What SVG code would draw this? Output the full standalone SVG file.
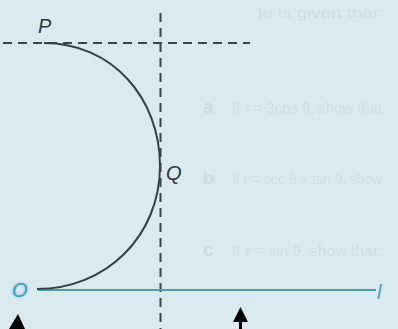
<svg xmlns="http://www.w3.org/2000/svg" width="398" height="329" viewBox="0 0 398 329">
<defs>
<style>
.ghost{font-family:"Liberation Sans",Arial,sans-serif;font-size:14px;fill:#cde0e6}
.ghostb{font-family:"Liberation Sans",Arial,sans-serif;font-size:18px;font-weight:bold;fill:#c9dde3}
.lbl{font-family:"Liberation Sans",Arial,sans-serif;font-style:italic;font-size:20px;fill:#2e3538}
.blue{font-family:"Liberation Sans",Arial,sans-serif;font-style:italic;font-size:20px;fill:#3d9fc0}
.dash{stroke:#3b4447;stroke-width:2;stroke-dasharray:9 6;fill:none}
.curve{stroke:#363f43;stroke-width:2;fill:none}
.base{stroke:#4c9fae;stroke-width:2.2;fill:none}
.arrow{fill:#000}
</style>
<filter id="glow" x="-50%" y="-50%" width="200%" height="200%">
<feGaussianBlur stdDeviation="1.5"/>
</filter>
</defs>
<rect width="398" height="329" fill="#dbeaef"/>
<g id="ghost-text">
<text class="ghost" x="258" y="18" font-size="17" textLength="120" lengthAdjust="spacingAndGlyphs">le is given that</text>
<text class="ghostb" x="203" y="113">a</text>
<text class="ghost" x="232" y="113" textLength="150" lengthAdjust="spacingAndGlyphs">If r = 3cos θ, show that</text>
<text class="ghostb" x="203" y="184">b</text>
<text class="ghost" x="232" y="184" textLength="150" lengthAdjust="spacingAndGlyphs">If r = sec θ + tan θ, show</text>
<text class="ghostb" x="203" y="256">c</text>
<text class="ghost" x="232" y="256" textLength="145" lengthAdjust="spacingAndGlyphs">If r = sin θ, show that</text>
</g>
<g id="connectors">
<line class="dash" x1="3" y1="43" x2="250" y2="43"/>
<line class="dash" x1="160.5" y1="13" x2="160.5" y2="329"/>
<line class="base" x1="38" y1="290" x2="376" y2="290"/>
<path class="curve" d="M 44 43 C 112 43 160 98 160 166 C 160 236 106 289 37 289"/>
</g>
<g id="P"><text class="lbl" x="38" y="33">P</text></g>
<g id="Q"><text class="lbl" x="166" y="180">Q</text></g>
<g id="O">
<text class="blue" x="12" y="297" filter="url(#glow)" opacity="0.6">O</text>
<text class="blue" x="12" y="297">O</text>
</g>
<g id="l"><text class="blue" x="377" y="299" style="fill:#4aa3b8">l</text></g>
<g id="arrows">
<path class="arrow" d="M 18 314 L 25 329 L 9 329 Z"/>
<path class="arrow" d="M 240.5 307 L 248 322 L 242 322 L 242 329 L 239 329 L 239 322 L 233 322 Z"/>
</g>
</svg>
